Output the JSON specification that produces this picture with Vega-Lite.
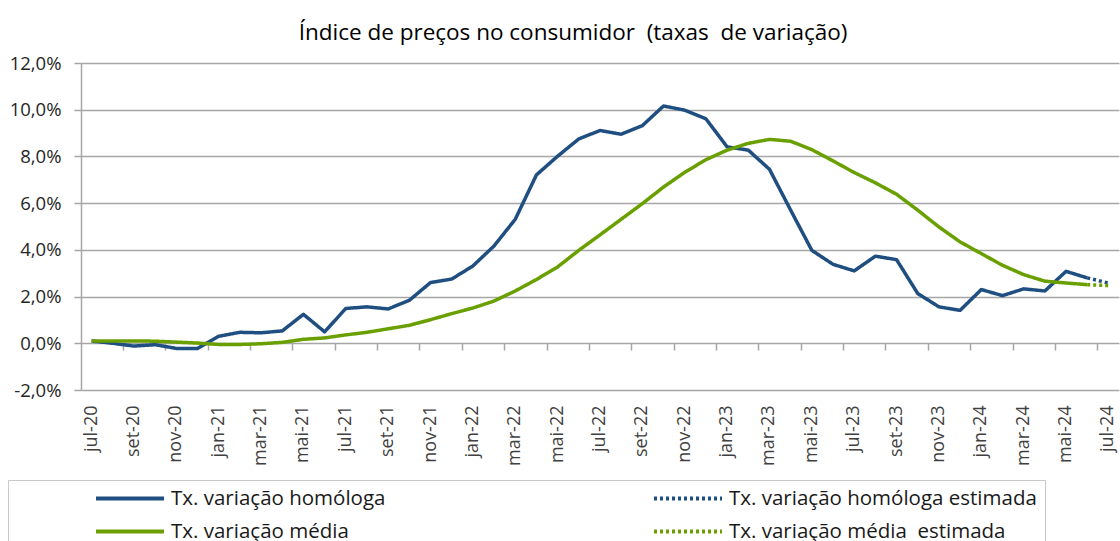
{
  "$schema": "https://vega.github.io/schema/vega-lite/v6.json",
  "width": 1038,
  "height": 327,
  "autosize": {"type": "none"},
  "padding": {"left": 81, "top": 63, "right": 1, "bottom": 151},
  "background": "white",
  "config": {"font": "Open Sans", "view": {"stroke": null}},
  "title": {
    "text": "Índice de preços no consumidor\u00a0 (taxas\u00a0 de variação)",
    "fontSize": 22.5,
    "fontWeight": "normal",
    "color": "#000000",
    "font": "Open Sans",
    "anchor": "middle",
    "dx": -27,
    "dy": 34,
    "offset": 26,
    "baseline": "alphabetic"
  },
  "data": {
    "values": [
      {"mes": "jul-20", "serie": "Tx. variação homóloga", "valor": 0.1},
      {"mes": "ago-20", "serie": "Tx. variação homóloga", "valor": 0.0},
      {"mes": "set-20", "serie": "Tx. variação homóloga", "valor": -0.12},
      {"mes": "out-20", "serie": "Tx. variação homóloga", "valor": -0.06},
      {"mes": "nov-20", "serie": "Tx. variação homóloga", "valor": -0.22},
      {"mes": "dez-20", "serie": "Tx. variação homóloga", "valor": -0.22},
      {"mes": "jan-21", "serie": "Tx. variação homóloga", "valor": 0.3},
      {"mes": "fev-21", "serie": "Tx. variação homóloga", "valor": 0.47},
      {"mes": "mar-21", "serie": "Tx. variação homóloga", "valor": 0.45},
      {"mes": "abr-21", "serie": "Tx. variação homóloga", "valor": 0.53},
      {"mes": "mai-21", "serie": "Tx. variação homóloga", "valor": 1.24},
      {"mes": "jun-21", "serie": "Tx. variação homóloga", "valor": 0.49},
      {"mes": "jul-21", "serie": "Tx. variação homóloga", "valor": 1.49},
      {"mes": "ago-21", "serie": "Tx. variação homóloga", "valor": 1.56},
      {"mes": "set-21", "serie": "Tx. variação homóloga", "valor": 1.47},
      {"mes": "out-21", "serie": "Tx. variação homóloga", "valor": 1.84},
      {"mes": "nov-21", "serie": "Tx. variação homóloga", "valor": 2.6},
      {"mes": "dez-21", "serie": "Tx. variação homóloga", "valor": 2.75},
      {"mes": "jan-22", "serie": "Tx. variação homóloga", "valor": 3.31},
      {"mes": "fev-22", "serie": "Tx. variação homóloga", "valor": 4.17},
      {"mes": "mar-22", "serie": "Tx. variação homóloga", "valor": 5.31},
      {"mes": "abr-22", "serie": "Tx. variação homóloga", "valor": 7.21},
      {"mes": "mai-22", "serie": "Tx. variação homóloga", "valor": 8.01},
      {"mes": "jun-22", "serie": "Tx. variação homóloga", "valor": 8.75},
      {"mes": "jul-22", "serie": "Tx. variação homóloga", "valor": 9.11},
      {"mes": "ago-22", "serie": "Tx. variação homóloga", "valor": 8.95},
      {"mes": "set-22", "serie": "Tx. variação homóloga", "valor": 9.32},
      {"mes": "out-22", "serie": "Tx. variação homóloga", "valor": 10.16},
      {"mes": "nov-22", "serie": "Tx. variação homóloga", "valor": 9.98},
      {"mes": "dez-22", "serie": "Tx. variação homóloga", "valor": 9.61},
      {"mes": "jan-23", "serie": "Tx. variação homóloga", "valor": 8.41},
      {"mes": "fev-23", "serie": "Tx. variação homóloga", "valor": 8.27},
      {"mes": "mar-23", "serie": "Tx. variação homóloga", "valor": 7.45},
      {"mes": "abr-23", "serie": "Tx. variação homóloga", "valor": 5.7},
      {"mes": "mai-23", "serie": "Tx. variação homóloga", "valor": 3.98},
      {"mes": "jun-23", "serie": "Tx. variação homóloga", "valor": 3.38},
      {"mes": "jul-23", "serie": "Tx. variação homóloga", "valor": 3.1},
      {"mes": "ago-23", "serie": "Tx. variação homóloga", "valor": 3.73},
      {"mes": "set-23", "serie": "Tx. variação homóloga", "valor": 3.58},
      {"mes": "out-23", "serie": "Tx. variação homóloga", "valor": 2.13},
      {"mes": "nov-23", "serie": "Tx. variação homóloga", "valor": 1.56},
      {"mes": "dez-23", "serie": "Tx. variação homóloga", "valor": 1.41},
      {"mes": "jan-24", "serie": "Tx. variação homóloga", "valor": 2.3},
      {"mes": "fev-24", "serie": "Tx. variação homóloga", "valor": 2.04},
      {"mes": "mar-24", "serie": "Tx. variação homóloga", "valor": 2.33},
      {"mes": "abr-24", "serie": "Tx. variação homóloga", "valor": 2.24},
      {"mes": "mai-24", "serie": "Tx. variação homóloga", "valor": 3.08},
      {"mes": "jun-24", "serie": "Tx. variação homóloga", "valor": 2.8},
      {"mes": "jun-24", "serie": "Tx. variação homóloga estimada", "valor": 2.8},
      {"mes": "jul-24", "serie": "Tx. variação homóloga estimada", "valor": 2.58},
      {"mes": "jul-20", "serie": "Tx. variação média", "valor": 0.1},
      {"mes": "ago-20", "serie": "Tx. variação média", "valor": 0.1},
      {"mes": "set-20", "serie": "Tx. variação média", "valor": 0.1},
      {"mes": "out-20", "serie": "Tx. variação média", "valor": 0.09},
      {"mes": "nov-20", "serie": "Tx. variação média", "valor": 0.05},
      {"mes": "dez-20", "serie": "Tx. variação média", "valor": 0.01},
      {"mes": "jan-21", "serie": "Tx. variação média", "valor": -0.05},
      {"mes": "fev-21", "serie": "Tx. variação média", "valor": -0.05},
      {"mes": "mar-21", "serie": "Tx. variação média", "valor": -0.02},
      {"mes": "abr-21", "serie": "Tx. variação média", "valor": 0.04},
      {"mes": "mai-21", "serie": "Tx. variação média", "valor": 0.17},
      {"mes": "jun-21", "serie": "Tx. variação média", "valor": 0.23},
      {"mes": "jul-21", "serie": "Tx. variação média", "valor": 0.36},
      {"mes": "ago-21", "serie": "Tx. variação média", "valor": 0.47},
      {"mes": "set-21", "serie": "Tx. variação média", "valor": 0.62},
      {"mes": "out-21", "serie": "Tx. variação média", "valor": 0.77},
      {"mes": "nov-21", "serie": "Tx. variação média", "valor": 1.01},
      {"mes": "dez-21", "serie": "Tx. variação média", "valor": 1.27},
      {"mes": "jan-22", "serie": "Tx. variação média", "valor": 1.51},
      {"mes": "fev-22", "serie": "Tx. variação média", "valor": 1.81},
      {"mes": "mar-22", "serie": "Tx. variação média", "valor": 2.24},
      {"mes": "abr-22", "serie": "Tx. variação média", "valor": 2.73},
      {"mes": "mai-22", "serie": "Tx. variação média", "valor": 3.27},
      {"mes": "jun-22", "serie": "Tx. variação média", "valor": 3.98},
      {"mes": "jul-22", "serie": "Tx. variação média", "valor": 4.64},
      {"mes": "ago-22", "serie": "Tx. variação média", "valor": 5.31},
      {"mes": "set-22", "serie": "Tx. variação média", "valor": 5.98},
      {"mes": "out-22", "serie": "Tx. variação média", "valor": 6.69},
      {"mes": "nov-22", "serie": "Tx. variação média", "valor": 7.32},
      {"mes": "dez-22", "serie": "Tx. variação média", "valor": 7.86},
      {"mes": "jan-23", "serie": "Tx. variação média", "valor": 8.27},
      {"mes": "fev-23", "serie": "Tx. variação média", "valor": 8.56},
      {"mes": "mar-23", "serie": "Tx. variação média", "valor": 8.73},
      {"mes": "abr-23", "serie": "Tx. variação média", "valor": 8.65},
      {"mes": "mai-23", "serie": "Tx. variação média", "valor": 8.29},
      {"mes": "jun-23", "serie": "Tx. variação média", "valor": 7.81},
      {"mes": "jul-23", "serie": "Tx. variação média", "valor": 7.31},
      {"mes": "ago-23", "serie": "Tx. variação média", "valor": 6.87},
      {"mes": "set-23", "serie": "Tx. variação média", "valor": 6.38},
      {"mes": "out-23", "serie": "Tx. variação média", "valor": 5.7},
      {"mes": "nov-23", "serie": "Tx. variação média", "valor": 4.98},
      {"mes": "dez-23", "serie": "Tx. variação média", "valor": 4.34},
      {"mes": "jan-24", "serie": "Tx. variação média", "valor": 3.84},
      {"mes": "fev-24", "serie": "Tx. variação média", "valor": 3.34},
      {"mes": "mar-24", "serie": "Tx. variação média", "valor": 2.94},
      {"mes": "abr-24", "serie": "Tx. variação média", "valor": 2.66},
      {"mes": "mai-24", "serie": "Tx. variação média", "valor": 2.58},
      {"mes": "jun-24", "serie": "Tx. variação média", "valor": 2.51},
      {"mes": "jun-24", "serie": "Tx. variação média\u00a0 estimada", "valor": 2.51},
      {"mes": "jul-24", "serie": "Tx. variação média\u00a0 estimada", "valor": 2.47}
    ]
  },
  "layer": [
    {
      "mark": {"type": "line", "strokeWidth": 3.5, "strokeJoin": "round", "strokeCap": "butt"},
      "encoding": {
        "x": {
          "field": "mes",
          "type": "ordinal",
          "sort": null,
          "bandPosition": 0.5,
          "scale": {"type": "band", "paddingInner": 0, "paddingOuter": 0},
          "axis": {
            "orient": "bottom",
            "title": null,
            "values": ["jul-20", "set-20", "nov-20", "jan-21", "mar-21", "mai-21", "jul-21", "set-21", "nov-21", "jan-22", "mar-22", "mai-22", "jul-22", "set-22", "nov-22", "jan-23", "mar-23", "mai-23", "jul-23", "set-23", "nov-23", "jan-24", "mar-24", "mai-24", "jul-24"],
            "labelAngle": -90,
            "labelFontSize": 18,
            "labelColor": "#404040",
            "labelPadding": 15,
            "ticks": false,
            "tickSize": 0,
            "domain": false,
            "grid": false,
            "labelOverlap": false
          }
        },
        "y": {
          "field": "valor",
          "type": "quantitative",
          "scale": {"domain": [-2, 12], "nice": false},
          "axis": {
            "title": null,
            "values": [-2, 0, 2, 4, 6, 8, 10, 12],
            "labelExpr": "replace(replace(format(datum.value, '.1f'), '.', ','), '\u2212', '-') + '%'",
            "labelFontSize": 18.5,
            "labelColor": "#262626",
            "labelPadding": 13,
            "tickSize": 7,
            "tickColor": "#a6a6a6",
            "tickWidth": 1.5,
            "domainColor": "#a6a6a6",
            "domainWidth": 1.5,
            "grid": true,
            "gridColor": "#a6a6a6",
            "gridWidth": 1.5
          }
        },
        "color": {
          "field": "serie",
          "type": "nominal",
          "scale": {
            "domain": ["Tx. variação homóloga", "Tx. variação homóloga estimada", "Tx. variação média", "Tx. variação média\u00a0 estimada"],
            "range": ["#1f4e80", "#1f4e80", "#6a9f00", "#6a9f00"]
          },
          "legend": {
            "title": "\u00a0",
            "titleOrient": "left",
            "titleFontSize": 10,
            "titlePadding": 78,
            "orient": "none",
            "direction": "horizontal",
            "legendX": -73,
            "legendY": 417,
            "columns": 2,
            "symbolType": "M-1,0H7",
            "symbolSize": 289,
            "symbolStrokeWidth": 4,
            "labelFontSize": 20.5,
            "labelColor": "#1a1a1a",
            "labelOffset": 56,
            "labelLimit": 0,
            "labelExpr": "indexof(datum.label, 'estimada') >= 0 ? datum.label + '\u00a0\u00a0\u00a0\u00a0\u00a0\u00a0\u00a0\u00a0\u00a0\u00a0\u00a0\u00a0' : datum.label",
            "rowPadding": 12,
            "columnPadding": 260,
            "padding": 8,
            "strokeColor": "#c8c8c8",
            "fillColor": "white"
          }
        },
        "strokeDash": {
          "field": "serie",
          "type": "nominal",
          "scale": {
            "domain": ["Tx. variação homóloga", "Tx. variação homóloga estimada", "Tx. variação média", "Tx. variação média\u00a0 estimada"],
            "range": [[1, 0], [3, 3], [1, 0], [3, 3]]
          },
          "legend": {
            "title": "\u00a0",
            "titleOrient": "left",
            "titleFontSize": 10,
            "titlePadding": 78,
            "orient": "none",
            "direction": "horizontal",
            "legendX": -73,
            "legendY": 417,
            "columns": 2,
            "symbolType": "M-1,0H7",
            "symbolSize": 289,
            "symbolStrokeWidth": 4,
            "labelFontSize": 20.5,
            "labelColor": "#1a1a1a",
            "labelOffset": 56,
            "labelLimit": 0,
            "labelExpr": "indexof(datum.label, 'estimada') >= 0 ? datum.label + '\u00a0\u00a0\u00a0\u00a0\u00a0\u00a0\u00a0\u00a0\u00a0\u00a0\u00a0\u00a0' : datum.label",
            "rowPadding": 12,
            "columnPadding": 260,
            "padding": 8,
            "strokeColor": "#c8c8c8",
            "fillColor": "white"
          }
        },
        "order": {"value": null}
      }
    },
    {
      "mark": {"type": "point", "opacity": 0},
      "encoding": {
        "x": {
          "field": "mes",
          "type": "ordinal",
          "sort": null,
          "axis": {
            "orient": "bottom",
            "title": null,
            "offset": -47,
            "bandPosition": 0,
            "values": ["set-20", "nov-20", "jan-21", "mar-21", "mai-21", "jul-21", "set-21", "nov-21", "jan-22", "mar-22", "mai-22", "jul-22", "set-22", "nov-22", "jan-23", "mar-23", "mai-23", "jul-23", "set-23", "nov-23", "jan-24", "mar-24", "mai-24", "jul-24"],
            "labels": false,
            "domain": false,
            "grid": false,
            "ticks": true,
            "tickSize": 7,
            "tickColor": "#a6a6a6",
            "tickWidth": 1.5
          }
        },
        "y": {"field": "valor", "type": "quantitative"}
      }
    }
  ],
  "resolve": {"axis": {"x": "independent"}}
}
